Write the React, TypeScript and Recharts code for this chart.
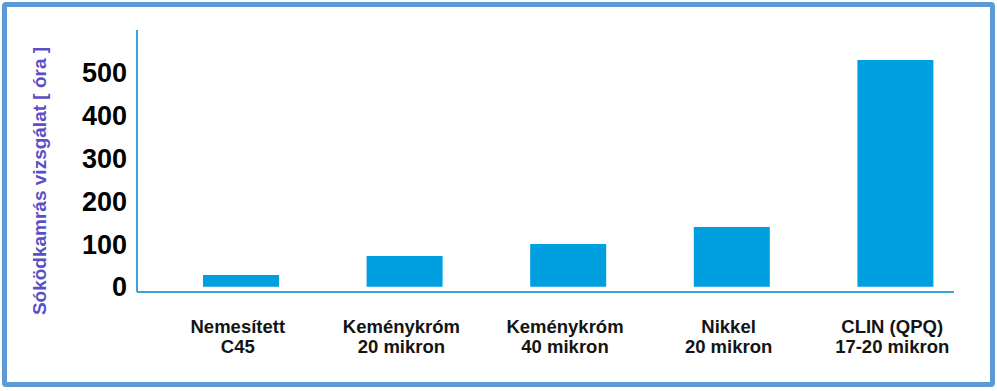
import { BarChart, Bar, XAxis, YAxis } from 'recharts';

const categories = [
  ['Nemesített', 'C45'],
  ['Keménykróm', '20 mikron'],
  ['Keménykróm', '40 mikron'],
  ['Nikkel', '20 mikron'],
  ['CLIN (QPQ)', '17-20 mikron'],
];
const hours = [28, 72, 100, 140, 530];
const yTicks = [0, 100, 200, 300, 400, 500];
const yLabel = 'Sóködkamrás vizsgálat [ óra ]';

const data = categories.map((c, i) => ({ name: c.join('\n'), hours: hours[i] }));

const font = '"Liberation Sans", Arial, sans-serif';

function CategoryTick(props: any) {
  const { x, y, payload } = props;
  const lines = String(payload.value).split('\n');
  return (
    <text
      x={x - 3}
      y={y}
      textAnchor="middle"
      fontFamily={font}
      fontWeight="bold"
      fontSize={18.5}
      fill="#141414"
    >
      {lines.map((l, i) => (
        <tspan key={i} x={x - 3} dy={i === 0 ? 41 : 20}>
          {l}
        </tspan>
      ))}
    </text>
  );
}

function AxisTitle() {
  return (
    <text
      x={46}
      y={181}
      transform="rotate(-90 46 181)"
      textAnchor="middle"
      fontFamily={font}
      fontWeight="bold"
      fontSize={19}
      fill="#5b4fc8"
    >
      {yLabel}
    </text>
  );
}

export default function App() {
  return (
    <div style={{ position: 'absolute', left: 0, top: 0, width: 997, height: 391, background: '#fff' }}>
      <div
        style={{
          position: 'absolute',
          left: 2,
          top: 2,
          width: 993,
          height: 385,
          border: '5px solid #5b9bd5',
          borderRadius: 4,
          boxSizing: 'border-box',
        }}
      />
      <div style={{ position: 'absolute', left: 0, top: 0 }}>
        <BarChart
          width={997}
          height={391}
          data={data}
          margin={{ top: 30, right: 43, bottom: 0, left: 0 }}
        >
          <XAxis
            dataKey="name"
            interval={0}
            height={99}
            padding={{ left: 22, right: -23 }}
            axisLine={{ stroke: '#3aa3d8', strokeWidth: 2 }}
            tickLine={false}
            tickSize={0}
            tickMargin={0}
            tick={<CategoryTick />}
          />
          <YAxis
            width={137}
            domain={[-12, 600]}
            ticks={yTicks}
            allowDataOverflow
            axisLine={{ stroke: '#3aa3d8', strokeWidth: 2 }}
            tickLine={false}
            tickSize={0}
            tickMargin={10}
            tick={{ fontFamily: font, fontWeight: 'bold', fontSize: 27, fill: '#000' }}
            label={<AxisTitle />}
          />
          <Bar dataKey="hours" fill="#009fdf" barSize={76} isAnimationActive={false} />
        </BarChart>
      </div>
    </div>
  );
}
